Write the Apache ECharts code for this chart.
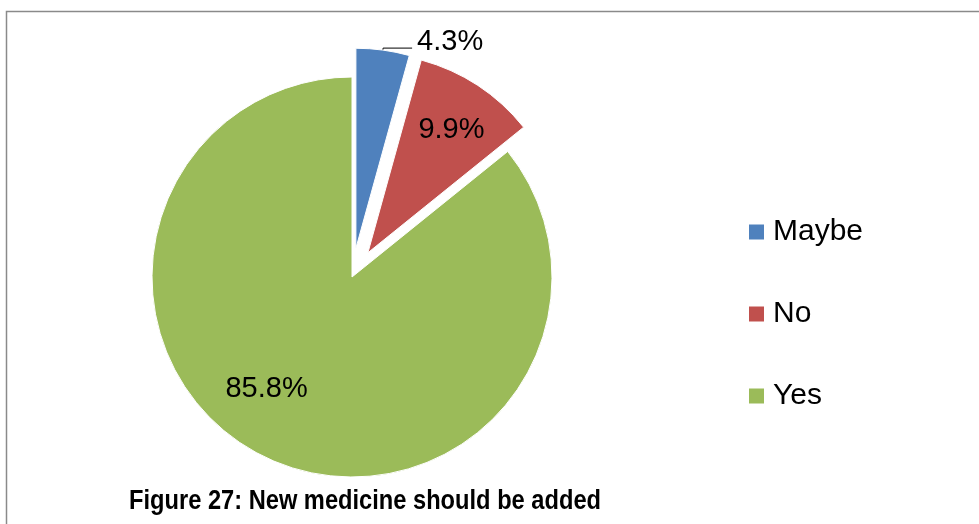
<!DOCTYPE html>
<html>
<head>
<meta charset="utf-8">
<script src="https://cdn.jsdelivr.net/npm/echarts@6/dist/echarts.min.js"></script>
<style>
  html, body { margin: 0; padding: 0; background: #fff; }
  #chart { width: 979px; height: 524px; }
</style>
</head>
<body>
<div id="chart"></div>
<script>
// Survey answers: should a new medicine be added?
const categories = ['Maybe', 'No', 'Yes'];
const shares = [4.3, 9.9, 85.8];
const sliceColors = ['#4F81BD', '#C0504D', '#9BBB59'];
const chartTitle = 'Figure 27: New medicine should be added';

// Nudges for the in-slice percentage labels (pixels)
const labelNudge = [[0, 0], [27, -37], [-41, 19]];

const pieData = categories.map((name, i) => {
  const item = {
    name: name,
    value: shares[i],
    itemStyle: { color: sliceColors[i] },
    selected: i < 2
  };
  if (i > 0) {
    item.label = { position: 'inside', formatter: '{c}%', lineHeight: 30 };
    item.labelLine = { show: false };
  }
  return item;
});

const chart = echarts.init(document.getElementById('chart'), null, { renderer: 'canvas' });

chart.setOption({
  animation: false,
  backgroundColor: '#ffffff',
  graphic: [{
    type: 'rect',
    shape: { x: 6.5, y: 11.5, width: 1000, height: 600 },
    style: { fill: 'none', stroke: '#8a8a8a', lineWidth: 1.5 },
    silent: true
  }, {
    // condensed bold caption under the pie
    type: 'text',
    x: 365,
    y: 501,
    scaleX: 0.845,
    silent: true,
    style: {
      text: chartTitle,
      font: 'bold 28px "Liberation Sans", Arial, sans-serif',
      fill: '#000',
      textAlign: 'center',
      textVerticalAlign: 'middle'
    }
  }],
  legend: {
    orient: 'vertical',
    left: 747,
    top: 217,
    padding: 0,
    itemWidth: 17,
    itemHeight: 17,
    itemGap: 52,
    icon: 'rect',
    selectedMode: false,
    data: categories,
    textStyle: {
      fontFamily: '"Liberation Sans", Arial, sans-serif',
      fontSize: 30,
      lineHeight: 30,
      color: '#000',
      padding: [0, 0, 0, 3]
    }
  },
  series: [{
    type: 'pie',
    center: [352, 277],
    radius: 200,
    startAngle: 90,
    clockwise: true,
    selectedMode: 'multiple',
    selectedOffset: 29,
    avoidLabelOverlap: false,
    emphasis: { disabled: true },
    itemStyle: { borderColor: '#fff', borderWidth: 1 },
    label: {
      show: true,
      position: 'outside',
      // trailing blank line lifts the text a little above its leader line
      formatter: '{c}%\n ',
      lineHeight: 13,
      fontFamily: '"Liberation Sans", Arial, sans-serif',
      fontSize: 29,
      color: '#000',
      distanceToLabelLine: 5
    },
    labelLine: {
      show: true,
      length: 2,
      length2: 29,
      smooth: false,
      lineStyle: { color: '#000', width: 1 }
    },
    labelLayout: function (params) {
      const n = labelNudge[params.dataIndex];
      if (params.dataIndex === 0) return {};
      return { dx: n[0], dy: n[1] };
    },
    data: pieData
  }]
});
</script>
</body>
</html>
